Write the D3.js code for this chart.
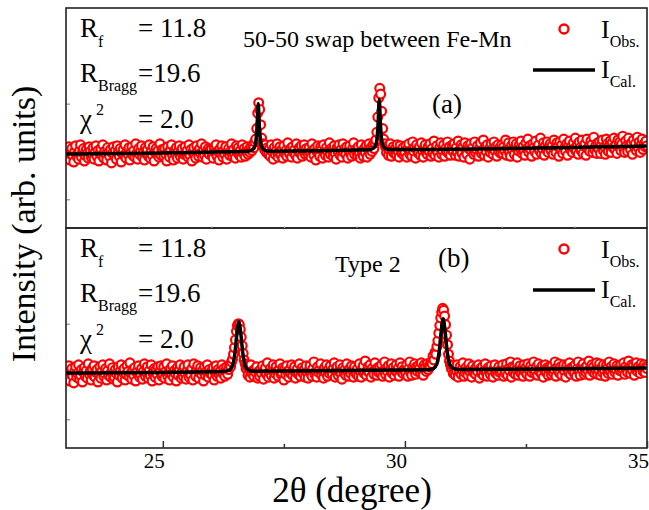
<!DOCTYPE html>
<html lang="en">
<head>
<meta charset="UTF-8">
<title>Rietveld fit</title>
<script src="https://cdn.jsdelivr.net/npm/d3@7/dist/d3.min.js"></script>
<style>
  body { margin: 0; background: #fff; }
</style>
</head>
<body>
<script>
// measurement grid (2theta, degrees)
var thetaStart = 23, thetaStep = 0.02;

// observed intensity, panel (a) 50-50 swap between Fe-Mn (one row per degree)
var obsA = [
  52,45,49,55,41,47,53,46,39,50,56,45,48,42,51,57,44,49,53,40,46,52,48,43,55,50,44,47,54,42,49,56,45,51,40,48,53,46,57,43,50,47,41,54,49,45,52,38,48,55,
  47,51,42,56,49,45,53,39,48,52,46,57,43,50,47,54,41,49,55,46,51,44,58,48,42,53,47,50,56,44,49,41,54,48,52,45,57,43,50,46,55,40,49,53,47,51,44,58,46,52,
  50,45,53,47,40,55,49,44,52,57,46,41,51,48,54,43,50,56,45,49,53,42,47,55,48,51,44,57,46,52,40,49,54,47,43,56,50,45,53,48,58,44,51,46,55,42,49,53,47,52,
  52,46,43,54,49,57,45,50,41,53,48,56,44,51,47,55,42,49,53,46,50,58,45,52,47,43,56,49,54,46,51,44,57,48,53,45,50,55,47,52,49,55,51,57,54,60,63,74,90,101,
  94,78,64,58,55,52,57,49,54,47,53,45,57,50,42,54,47,51,58,44,49,55,46,52,43,56,48,51,45,59,50,47,53,44,55,49,52,46,58,43,50,54,48,56,45,51,57,47,53,49,
  47,54,49,44,58,51,46,53,41,50,56,48,45,55,52,43,57,49,46,54,50,44,59,47,53,51,45,56,48,42,54,50,57,46,52,44,58,49,53,47,55,43,51,56,48,45,53,59,47,52,
  51,46,55,48,43,57,50,45,53,49,56,44,52,58,47,54,50,57,53,59,62,70,86,106,116,110,92,74,63,58,55,49,54,46,52,58,45,51,55,48,53,47,57,50,44,56,51,48,54,46,
  49,56,44,53,58,47,51,45,60,50,54,43,57,52,48,55,46,59,51,44,53,57,49,47,55,50,58,45,53,48,61,46,52,56,49,44,54,59,47,51,57,45,53,50,60,48,55,46,52,57,
  50,58,46,54,49,61,45,52,57,48,55,44,59,51,47,56,53,42,58,50,54,47,60,49,52,56,45,53,59,48,51,62,46,55,50,57,44,53,49,58,52,47,60,51,55,45,57,50,54,48,
  57,48,55,51,62,46,53,59,49,45,56,52,60,47,54,58,44,51,57,53,61,48,55,50,46,59,53,63,49,56,52,45,58,54,50,61,47,55,57,51,64,48,53,59,46,56,52,60,49,55,
  58,51,56,47,62,53,49,59,55,45,60,52,57,48,63,54,50,58,46,56,61,52,55,49,59,53,64,50,57,47,60,54,51,62,48,56,58,46,63,53,55,50,61,57,49,65,52,56,48,59,
  53,60,48,57,62,51,55,47,63,58,50,56,61,49,59,54,64,52,57,48,62,55,60,51,58,66,53,49,61,56,50,64,57,52,59,47,62,55,58,51,65,54,60,49,57,63,52,58,55,61,56
];

// observed intensity, panel (b) Type 2 (one row per degree)
var obsB = [
  51,43,47,56,40,49,53,45,38,50,55,44,48,57,42,46,52,39,49,54,45,51,43,58,47,50,41,53,46,56,44,49,52,39,47,55,43,50,57,45,48,53,41,51,46,58,44,49,54,42,
  44,52,48,39,55,46,50,57,43,49,53,41,47,56,50,45,59,48,42,52,46,54,40,49,51,56,44,47,53,42,50,58,45,49,55,43,51,46,57,40,48,53,44,52,47,55,41,50,56,45,
  47,55,43,50,58,45,49,41,53,47,56,44,51,48,40,54,46,52,57,43,49,45,55,48,42,51,57,44,50,46,53,41,58,48,45,52,56,43,49,54,47,51,40,55,46,50,57,44,52,48,
  50,46,54,41,49,56,45,52,47,50,43,57,48,53,45,51,55,47,52,57,55,60,63,68,75,83,92,98,100,99,94,86,77,69,62,58,53,56,46,53,44,57,48,51,45,52,49,55,43,50,
  45,52,48,56,42,50,54,47,59,44,49,53,46,51,57,43,48,55,50,45,52,58,47,49,54,41,53,47,56,50,44,52,48,57,46,51,55,43,49,53,47,58,45,50,54,48,52,44,56,49,
  43,51,56,48,45,53,60,47,50,44,55,49,52,58,46,51,43,54,49,57,45,52,48,56,50,47,53,59,44,51,55,46,50,57,48,42,54,49,52,46,58,50,45,53,48,56,51,44,55,49,
  47,53,45,58,50,44,52,56,48,61,46,51,55,49,57,44,53,50,47,59,52,46,54,49,55,48,57,45,51,60,47,53,50,56,44,52,58,48,54,46,51,57,49,53,45,59,50,55,48,52,
  51,48,57,45,53,60,49,46,54,52,58,47,55,50,56,53,49,59,51,46,57,54,50,58,52,56,55,60,58,66,62,70,68,76,82,90,98,106,112,116,114,108,99,88,78,68,61,57,53,56,
  48,53,46,51,57,44,50,55,47,52,59,45,49,54,51,46,58,50,53,44,56,49,52,47,55,50,57,43,53,48,55,46,51,58,49,45,54,52,47,56,50,44,53,57,48,51,46,55,49,52,
  50,57,45,52,48,58,46,53,51,60,44,55,49,54,47,52,59,46,51,56,48,53,45,57,50,54,47,58,52,45,56,49,53,60,48,51,55,46,58,50,53,47,56,44,52,57,49,54,46,55,
  53,47,56,49,52,60,45,54,51,58,48,55,46,53,57,50,44,56,52,49,59,47,54,51,55,48,57,45,53,60,50,46,55,52,58,47,54,49,56,51,61,46,53,57,50,55,48,52,59,47,
  52,58,46,54,49,57,51,45,56,53,48,60,50,55,47,53,58,49,52,56,46,54,51,57,50,53,59,47,55,52,49,61,54,48,57,51,56,46,53,59,50,55,52,48,58,54,50,57,49,55,53
];

// calculated profile points
var calcThetaA = [23, 26.76, 26.84, 26.89, 26.92, 26.945, 26.97, 26.995, 27.02, 27.05, 27.10, 27.18,
                  29.26, 29.34, 29.39, 29.42, 29.445, 29.47, 29.495, 29.52, 29.55, 29.60, 29.68, 35];
var calcA      = [47.4, 50.2, 51.5, 54, 60, 75, 100, 75, 60, 54, 51.5, 50.3,
                  51.8, 53.2, 56, 62, 78, 104, 78, 62, 56, 53.2, 52.1, 55.7];
var calcThetaB = [23, 26.25, 26.37, 26.44, 26.49, 26.53, 26.57, 26.61, 26.65, 26.70, 26.77, 26.89,
                  30.47, 30.59, 30.66, 30.71, 30.75, 30.79, 30.83, 30.87, 30.92, 30.99, 31.11, 35];
var calcB      = [48.4, 50, 51.5, 56, 70, 90, 102, 90, 70, 56, 51.5, 50.2,
                  51.8, 53.3, 58, 72, 92, 105, 92, 72, 58, 53.3, 52, 53.6];

var xTicks = [25, 30, 35];
var xMinorTicks = [27.5, 32.5];
var yTicks = [0, 100];

var statLabels = ["= 11.8", "=19.6", "= 2.0"];
var panelNotes = ["50-50 swap between Fe-Mn", "Type 2"];
var panelTags = ["(a)", "(b)"];

var width = 649, height = 510;
var plotLeft = 66, plotRight = 647, panelH = 220;
var panelTops = [8, 228];
var serif = "'Liberation Serif', 'Times New Roman', Times, serif";

var svg = d3.select("body").append("svg")
  .attr("width", width).attr("height", height)
  .attr("font-family", serif);

var x = d3.scaleLinear().domain([23, 35]).range([plotLeft, plotRight]);

function gridTheta(arr) {
  return arr.map(function (v, i) { return {t: thetaStart + i * thetaStep, v: v}; });
}

var panels = [
  {obs: gridTheta(obsA), calc: calcThetaA.map(function (t, i) { return {t: t, v: calcA[i]}; }),
   note: panelNotes[0], noteX: 243, noteY: 39, tag: panelTags[0], tagX: 432, tagY: 105},
  {obs: gridTheta(obsB), calc: calcThetaB.map(function (t, i) { return {t: t, v: calcB[i]}; }),
   note: panelNotes[1], noteX: 335, noteY: 44, tag: panelTags[1], tagX: 438, tagY: 39}
];

panels.forEach(function (p, k) {
  var top = panelTops[k];
  var y = d3.scaleLinear().domain([-30, 200]).range([top + panelH, top]);
  var g = svg.append("g");

  var clipId = "clip" + k;
  svg.append("clipPath").attr("id", clipId).append("rect")
    .attr("x", plotLeft).attr("y", top).attr("width", plotRight - plotLeft).attr("height", panelH);
  var plot = g.append("g").attr("clip-path", "url(#" + clipId + ")");

  plot.selectAll("circle").data(p.obs).enter().append("circle")
    .attr("cx", function (d) { return x(d.t); })
    .attr("cy", function (d) { return y(d.v); })
    .attr("r", 4.4)
    .attr("fill", "#fff")
    .attr("stroke", "#ff0000")
    .attr("stroke-width", 2.2);

  var line = d3.line()
    .x(function (d) { return x(d.t); })
    .y(function (d) { return y(d.v); })
    .curve(d3.curveMonotoneX);
  plot.append("path").datum(p.calc)
    .attr("d", line)
    .attr("fill", "none")
    .attr("stroke", "#000")
    .attr("stroke-width", 3.5)
    .attr("stroke-linejoin", "round");

  // y ticks (inward, no labels)
  var yAxis = g.append("g").attr("transform", "translate(" + plotLeft + ",0)")
    .call(d3.axisLeft(y).tickValues(yTicks).tickSize(-4).tickFormat(""));
  yAxis.select(".domain").remove();
  yAxis.selectAll("line").attr("stroke", "#777").attr("stroke-width", 1);

  // frame
  g.append("rect")
    .attr("x", plotLeft).attr("y", top)
    .attr("width", plotRight - plotLeft).attr("height", panelH)
    .attr("fill", "none").attr("stroke", "#222").attr("stroke-width", 1.6);

  // refinement statistics
  var s1 = g.append("text").attr("x", 80).attr("y", top + 29);
  s1.append("tspan").attr("font-size", 27).text("R");
  s1.append("tspan").attr("font-size", 16).attr("dy", 10).text("f");
  var s2 = g.append("text").attr("x", 80).attr("y", top + 74);
  s2.append("tspan").attr("font-size", 27).text("R");
  s2.append("tspan").attr("font-size", 16).attr("dy", 9).text("Bragg");
  g.append("text").attr("x", 80).attr("y", top + 120).attr("font-size", 27).text("\u03c7");
  g.append("text").attr("x", 96).attr("y", top + 107).attr("font-size", 16).text("2");
  [29, 74, 120].forEach(function (dy, i) {
    g.append("text").attr("x", 138).attr("y", top + dy).attr("font-size", 27).text(statLabels[i]);
  });

  g.append("text").attr("x", p.noteX).attr("y", top + p.noteY).attr("font-size", 24).text(p.note);
  g.append("text").attr("x", p.tagX).attr("y", top + p.tagY).attr("font-size", 27).text(p.tag);

  // legend
  g.append("circle").attr("cx", 564).attr("cy", top + 21).attr("r", 4.5)
    .attr("fill", "#fff").attr("stroke", "#ff0000").attr("stroke-width", 2.4);
  var l1 = g.append("text").attr("x", 601).attr("y", top + 30);
  l1.append("tspan").attr("font-size", 26).text("I");
  l1.append("tspan").attr("font-size", 16).attr("dy", 9).text("Obs.");
  g.append("line").attr("x1", 533).attr("x2", 595).attr("y1", top + 62).attr("y2", top + 62)
    .attr("stroke", "#000").attr("stroke-width", 3.5);
  var l2 = g.append("text").attr("x", 601).attr("y", top + 70);
  l2.append("tspan").attr("font-size", 26).text("I");
  l2.append("tspan").attr("font-size", 16).attr("dy", 9).text("Cal.");
});

// faint ticks on the shared edge between the panels
var faint = svg.append("g").attr("transform", "translate(0," + (panelTops[0] + panelH) + ")")
  .call(d3.axisBottom(x).tickValues([24.5, 26, 27.5, 29, 30.5, 32, 33.5]).tickSize(-2).tickFormat(""));
faint.select(".domain").remove();
faint.selectAll("line").attr("stroke", "#bbb");

// bottom x axis
var xAxisY = panelTops[1] + panelH;
var xMinor = svg.append("g").attr("transform", "translate(0," + xAxisY + ")")
  .call(d3.axisBottom(x).tickValues(xMinorTicks).tickSize(-4).tickFormat(""));
xMinor.select(".domain").remove();
var xAxis = svg.append("g").attr("transform", "translate(0," + xAxisY + ")")
  .call(d3.axisBottom(x).tickValues(xTicks).tickSize(-7).tickPadding(5).tickFormat(d3.format("d")));
xAxis.select(".domain").remove();
xMinor.selectAll("line").attr("stroke", "#333").attr("stroke-width", 1.5);
xAxis.selectAll("line").attr("stroke", "#333").attr("stroke-width", 1.5);
xAxis.attr("font-family", serif).attr("font-size", 21);
xAxis.selectAll("g.tick text").attr("fill", "#000").attr("dx", -9);

// axis titles
svg.append("text")
  .attr("transform", "translate(35,224) rotate(-90)")
  .attr("text-anchor", "middle").attr("font-size", 34)
  .text("Intensity (arb. units)");
svg.append("text")
  .attr("x", 352).attr("y", 502)
  .attr("text-anchor", "middle").attr("font-size", 35)
  .text("2\u03b8 (degree)");
</script>
</body>
</html>
